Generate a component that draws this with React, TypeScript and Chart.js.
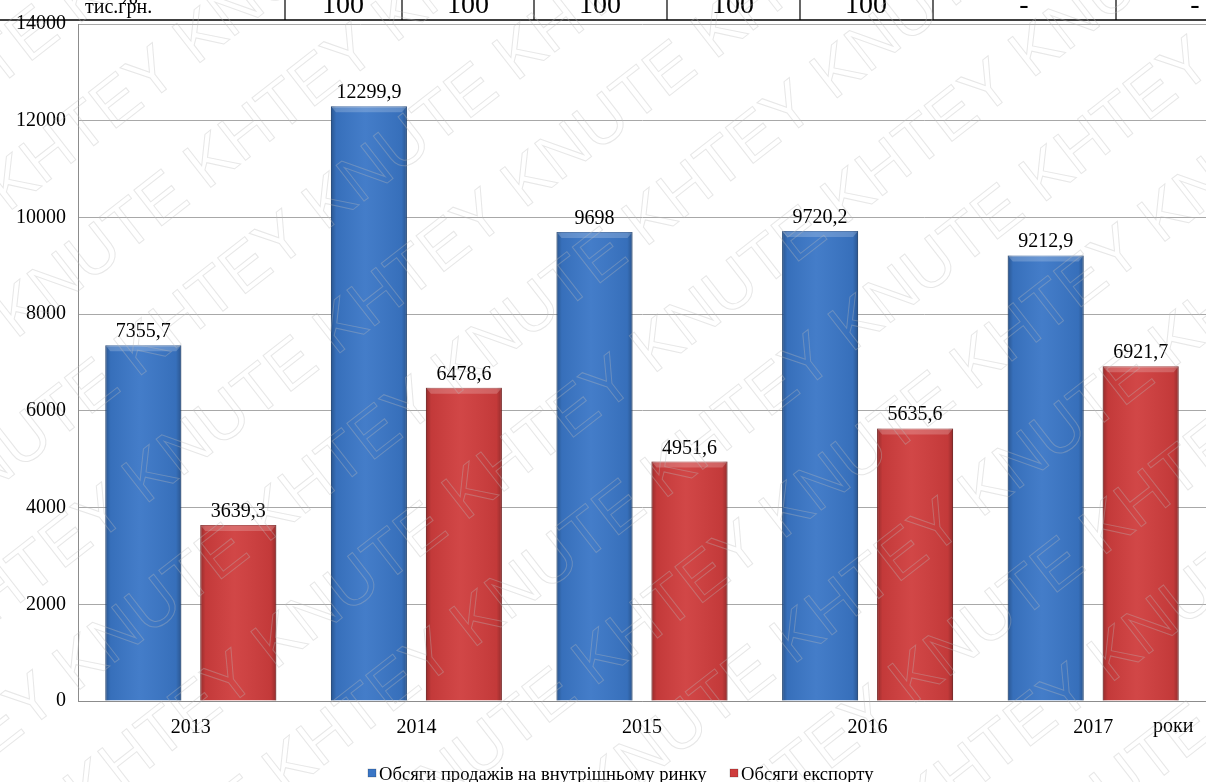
import React, { useEffect, useRef } from "react";
import { Chart, registerables } from "chart.js";

Chart.register(...registerables);

// ---- data ----
const years = ["2013", "2014", "2015", "2016", "2017"];
const domesticSales = [7355.7, 12299.9, 9698, 9720.2, 9212.9];
const exportSales = [3639.3, 6478.6, 4951.6, 5635.6, 6921.7];
const seriesNames = ["Обсяги продажів на внутрішньому ринку", "Обсяги експорту"];
const yMin = 0;
const yMax = 14000;
const yStep = 2000;
const tableUnit = "тис.грн.";
const tablePercent = "%";
const tableCells = ["100", "100", "100", "100", "100", "-", "-"];
const xUnit = "роки";
const watermarkText = "KHTEY KNUTE";

const SERIF = "'Liberation Serif', 'Times New Roman', serif";
const blue = "#3a76c6";
const red = "#cf3d3d";

const fmt = (v: number) => String(v).replace(".", ",");

export default function App() {
  const ref = useRef<HTMLCanvasElement | null>(null);

  useEffect(() => {
    document.body.style.margin = "0";
    const canvas = ref.current!;

    const watermarkPlugin = {
      id: "watermark",
      afterDraw(chart: any) {
        const ctx = chart.ctx;
        ctx.save();
        ctx.font = "66px 'Liberation Sans', sans-serif";
        ctx.strokeStyle = "rgba(185,185,185,0.35)";
        ctx.lineWidth = 1;
        ctx.textBaseline = "middle";
        ctx.translate(603, 391);
        ctx.rotate((-38 * Math.PI) / 180);
        const line = (watermarkText + " ").repeat(6);
        for (let r = -8; r <= 8; r++) {
          const off = (r % 2) * 170;
          ctx.strokeText(line, -1150 + off, r * 105);
        }
        ctx.restore();
      },
    };

    const barStylePlugin = {
      id: "barStyle",
      afterDatasetsDraw(chart: any) {
        const ctx = chart.ctx;
        chart.data.datasets.forEach((_ds: any, di: number) => {
          const meta = chart.getDatasetMeta(di);
          meta.data.forEach((el: any) => {
            const w = el.width;
            const l = el.x - w / 2;
            const r = el.x + w / 2;
            const t = el.y;
            const b = el.base;
            ctx.save();
            const g = ctx.createLinearGradient(l, 0, r, 0);
            g.addColorStop(0, "rgba(0,0,0,0.28)");
            g.addColorStop(0.07, "rgba(0,0,0,0.06)");
            g.addColorStop(0.45, "rgba(255,255,255,0.05)");
            g.addColorStop(0.93, "rgba(0,0,0,0.06)");
            g.addColorStop(1, "rgba(0,0,0,0.28)");
            ctx.fillStyle = g;
            ctx.fillRect(l, t, w, b - t);
            ctx.beginPath();
            ctx.moveTo(l, t);
            ctx.lineTo(r, t);
            ctx.lineTo(r - 5, t + 6);
            ctx.lineTo(l + 5, t + 6);
            ctx.closePath();
            ctx.fillStyle = "rgba(255,255,255,0.2)";
            ctx.fill();
            ctx.restore();
          });
        });
      },
    };

    const labelsPlugin = {
      id: "valueLabels",
      afterDatasetsDraw(chart: any) {
        const ctx = chart.ctx;
        ctx.save();
        ctx.font = `20px ${SERIF}`;
        ctx.fillStyle = "#000";
        ctx.textAlign = "center";
        ctx.textBaseline = "alphabetic";
        chart.data.datasets.forEach((ds: any, di: number) => {
          const meta = chart.getDatasetMeta(di);
          meta.data.forEach((el: any, i: number) => {
            ctx.fillText(fmt(ds.data[i]), el.x, el.y - 8);
          });
        });
        ctx.restore();
      },
    };

    const extrasPlugin = {
      id: "extras",
      afterDraw(chart: any) {
        const ctx = chart.ctx;
        ctx.save();
        ctx.strokeStyle = "#000";
        ctx.lineWidth = 1.5;
        ctx.beginPath();
        ctx.moveTo(0, 20);
        ctx.lineTo(1206, 20);
        ctx.stroke();
        const xs = [285, 402, 534, 667, 800, 933, 1116];
        ctx.lineWidth = 1.2;
        xs.forEach((x) => {
          ctx.beginPath();
          ctx.moveTo(x, 0);
          ctx.lineTo(x, 20);
          ctx.stroke();
        });
        ctx.fillStyle = "#000";
        ctx.textBaseline = "alphabetic";
        ctx.textAlign = "left";
        ctx.font = `20px ${SERIF}`;
        ctx.fillText(tableUnit, 85, 13);
        ctx.font = `24px ${SERIF}`;
        ctx.fillText(tablePercent, 118, 4);
        ctx.textAlign = "center";
        ctx.font = `28px ${SERIF}`;
        const centers = [343, 468, 600, 733, 866, 1024, 1195];
        tableCells.forEach((t, i) => ctx.fillText(t, centers[i], 13));

        ctx.font = `20px ${SERIF}`;
        ctx.textAlign = "left";
        ctx.textBaseline = "middle";
        ctx.fillText(xUnit, 1153, 727);

        const colors = [blue, red];
        const lx = [368, 730];
        ctx.font = `18.6px ${SERIF}`;
        ctx.textBaseline = "alphabetic";
        seriesNames.forEach((n, i) => {
          ctx.fillStyle = colors[i];
          ctx.fillRect(lx[i], 769, 8, 8);
          ctx.strokeStyle = "rgba(0,0,0,0.3)";
          ctx.lineWidth = 0.6;
          ctx.strokeRect(lx[i], 769, 8, 8);
          ctx.fillStyle = "#000";
          ctx.fillText(n, lx[i] + 11, 780);
        });
        ctx.restore();
      },
    };

    const chart = new Chart(canvas, {
      type: "bar",
      data: {
        labels: years,
        datasets: [
          {
            label: seriesNames[0],
            data: domesticSales,
            backgroundColor: blue,
            borderColor: "#2a5b9e",
            borderWidth: 1,
            categoryPercentage: 0.842,
            barPercentage: 0.8,
          },
          {
            label: seriesNames[1],
            data: exportSales,
            backgroundColor: red,
            borderColor: "#9e2b2b",
            borderWidth: 1,
            categoryPercentage: 0.842,
            barPercentage: 0.8,
          },
        ],
      },
      options: {
        animation: false,
        responsive: false,
        devicePixelRatio: 1,
        layout: { padding: { top: 20, left: 0, right: 0, bottom: 0 } },
        plugins: {
          legend: { display: false },
          tooltip: { enabled: false },
        },
        scales: {
          x: {
            grid: { display: false, drawTicks: false },
            border: { display: true, color: "#8c8c8c" },
            ticks: { color: "#000", font: { family: SERIF, size: 20 }, padding: 15 },
            afterFit: (s: any) => {
              s.height = 81;
            },
          },
          y: {
            min: yMin,
            max: yMax,
            ticks: {
              stepSize: yStep,
              color: "#000",
              font: { family: SERIF, size: 20 },
              padding: 12,
              callback: (v: any) => String(v),
            },
            grid: { color: "#a8a8a8", drawTicks: false },
            border: { display: true, color: "#8c8c8c" },
            afterFit: (s: any) => {
              s.width = 78;
            },
          },
        },
      },
      plugins: [barStylePlugin, labelsPlugin, extrasPlugin, watermarkPlugin],
    } as any);

    return () => chart.destroy();
  }, []);

  return (
    <div style={{ width: 1206, height: 782, position: "relative", background: "#fff" }}>
      <canvas ref={ref} width={1206} height={782} style={{ display: "block" }} />
    </div>
  );
}
